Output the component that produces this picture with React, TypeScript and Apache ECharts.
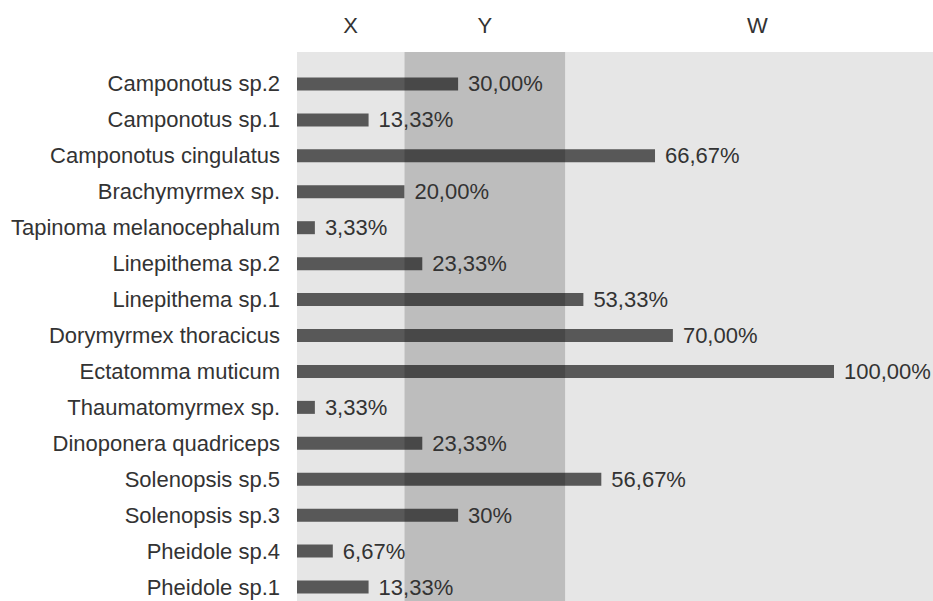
import React, { useEffect, useRef } from "react";
import * as echarts from "echarts";

const categories = [
  "Camponotus sp.2",
  "Camponotus sp.1",
  "Camponotus cingulatus",
  "Brachymyrmex sp.",
  "Tapinoma melanocephalum",
  "Linepithema sp.2",
  "Linepithema sp.1",
  "Dorymyrmex thoracicus",
  "Ectatomma muticum",
  "Thaumatomyrmex sp.",
  "Dinoponera quadriceps",
  "Solenopsis sp.5",
  "Solenopsis sp.3",
  "Pheidole sp.4",
  "Pheidole sp.1",
];

const values = [30, 13.33, 66.67, 20, 3.33, 23.33, 53.33, 70, 100, 3.33, 23.33, 56.67, 30, 6.67, 13.33];

const valueLabels = [
  "30,00%",
  "13,33%",
  "66,67%",
  "20,00%",
  "3,33%",
  "23,33%",
  "53,33%",
  "70,00%",
  "100,00%",
  "3,33%",
  "23,33%",
  "56,67%",
  "30%",
  "6,67%",
  "13,33%",
];

const zoneNames = ["X", "Y", "W"];
const zoneBreaks = [0, 20, 50];

const FONT = "'Liberation Sans', Arial, sans-serif";

export default function App() {
  const ref = useRef<HTMLDivElement>(null);

  useEffect(() => {
    if (!ref.current) return;
    const chart = echarts.init(ref.current, undefined, { renderer: "svg" });
    const zoneColors = ["#e6e6e6", "#bdbdbd", "#e6e6e6"];
    const markData = zoneNames.map((name, i) => {
      const start: any = { xAxis: zoneBreaks[i], y: 52, name, itemStyle: { color: zoneColors[i] } };
      if (i === 2) start.label = { offset: [8, 0] };
      const end: any = i < 2 ? { xAxis: zoneBreaks[i + 1], y: 615 } : { x: 933, y: 615 };
      return [start, end];
    });
    chart.setOption({
      animation: false,
      backgroundColor: "#ffffff",
      textStyle: { fontFamily: FONT },
      grid: { left: 297, top: 66, width: 537, height: 539 },
      xAxis: {
        type: "value",
        min: 0,
        max: 100,
        show: false,
      },
      yAxis: {
        type: "category",
        data: categories,
        inverse: true,
        axisLine: { show: true, lineStyle: { color: "#a6a6a6", width: 1 } },
        axisTick: { show: false },
        axisLabel: { fontSize: 22, color: "#333333", fontFamily: FONT, margin: 17 },
      },
      series: [
        {
          type: "bar",
          data: values,
          barWidth: 13,
          z: 5,
          itemStyle: { color: "rgba(0,0,0,0.62)" },
          label: {
            show: true,
            position: "right",
            distance: 10,
            fontSize: 22,
            color: "#333333",
            fontFamily: FONT,
            formatter: (p: any) => valueLabels[p.dataIndex],
          },
          markArea: {
            silent: true,
            z: 1,
            label: {
              show: true,
              position: "top",
              distance: 16,
              fontSize: 22,
              color: "#333333",
              fontFamily: FONT,
            },
            data: markData,
          },
        },
      ],
    });
    return () => chart.dispose();
  }, []);

  return (
    <div
      ref={ref}
      style={{ position: "fixed", left: 0, top: 0, width: 933, height: 615 }}
    />
  );
}
